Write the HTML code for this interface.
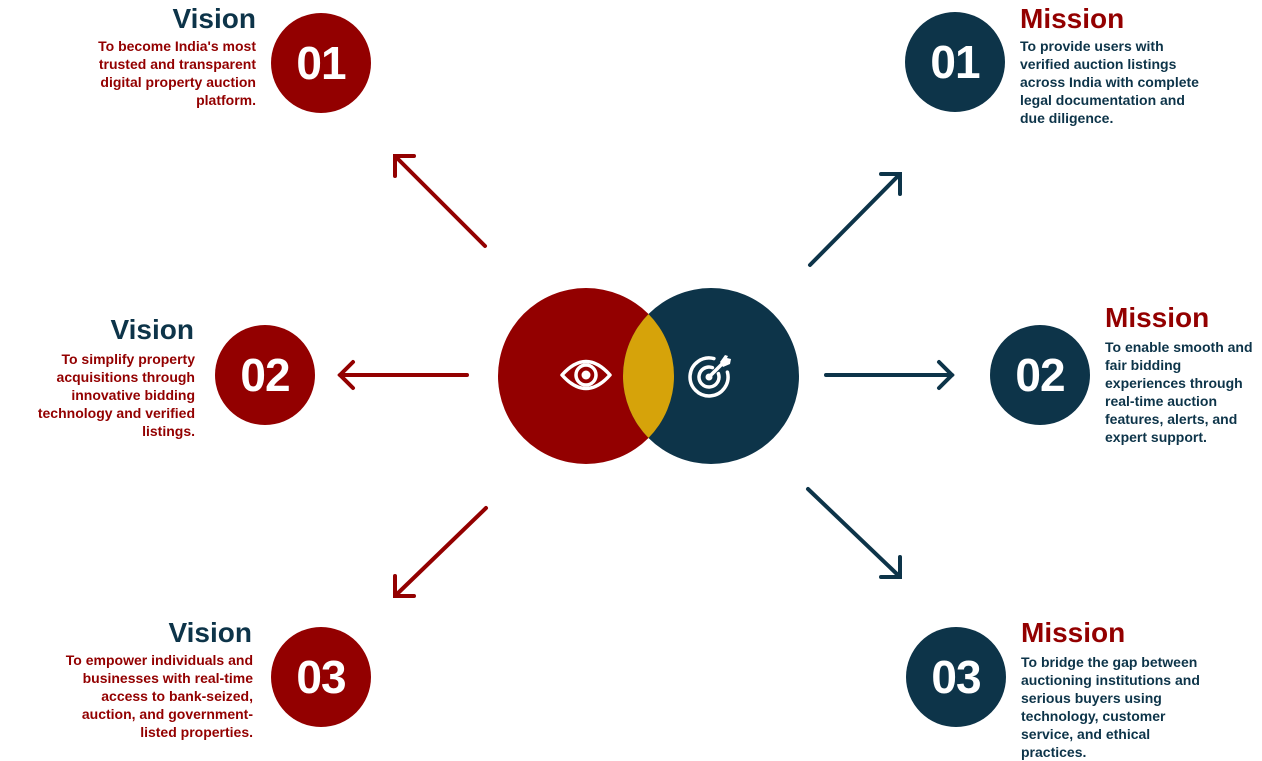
<!DOCTYPE html>
<html>
<head>
<meta charset="utf-8">
<style>
  html,body{margin:0;padding:0;background:#fff;}
  body{width:1262px;height:760px;position:relative;overflow:hidden;font-family:"Liberation Sans",Arial,sans-serif;}
  svg{position:absolute;left:0;top:0;}
  .t{position:absolute;font-weight:bold;font-size:28px;line-height:32px;white-space:nowrap;}
  .b{position:absolute;font-weight:bold;font-size:14px;line-height:18px;white-space:nowrap;}
  .r{text-align:right;}
  .navy{color:#0d3449;}
  .red{color:#930000;}
  .num{position:absolute;width:100px;height:100px;line-height:100px;text-align:center;color:#fff;font-size:46px;font-weight:bold;letter-spacing:-1px;}
</style>
</head>
<body>
<svg width="1262" height="760" viewBox="0 0 1262 760">
  <defs>
    <clipPath id="rc"><circle cx="711" cy="376" r="88"/></clipPath>
  </defs>
  <circle cx="321" cy="63" r="50" fill="#930000"/>
  <circle cx="265" cy="375" r="50" fill="#930000"/>
  <circle cx="321" cy="677" r="50" fill="#930000"/>
  <circle cx="955" cy="62" r="50" fill="#0d3449"/>
  <circle cx="1040" cy="375" r="50" fill="#0d3449"/>
  <circle cx="956" cy="677" r="50" fill="#0d3449"/>

  <circle cx="586" cy="376" r="88" fill="#930000"/>
  <circle cx="711" cy="376" r="88" fill="#0d3449"/>
  <circle cx="586" cy="376" r="88" fill="#d6a30a" clip-path="url(#rc)"/>

  <path d="M562,375 Q586,348 610,375 Q586,402 562,375 Z" fill="none" stroke="#fff" stroke-width="3.5" stroke-linejoin="round"/>
  <circle cx="586" cy="375" r="10" fill="none" stroke="#fff" stroke-width="3.5"/>
  <circle cx="586" cy="375" r="4.5" fill="#fff"/>

  <path d="M713.9,358.6 A19,19 0 1 0 727.4,372.1" fill="none" stroke="#fff" stroke-width="3.5" stroke-linecap="round"/>
  <path d="M712.4,367.6 A10,10 0 1 0 718.4,373.6" fill="none" stroke="#fff" stroke-width="3.5" stroke-linecap="round"/>
  <circle cx="709" cy="377" r="3.5" fill="#fff"/>
  <line x1="709" y1="377" x2="723" y2="363" stroke="#fff" stroke-width="3.5" stroke-linecap="round"/>
  <path d="M720,362 L725,355 L728,356 L727,358 L731,359 L730,364 L723,367 Z" fill="#fff"/>

  <g stroke="#930000" stroke-width="4" fill="none" stroke-linecap="round" stroke-linejoin="miter">
    <line x1="485" y1="246" x2="396" y2="157"/>
    <polyline points="414,156 395,156 395,176"/>
    <line x1="467" y1="375" x2="340" y2="375"/>
    <polyline points="353,362 340,375 353,388"/>
    <line x1="486" y1="508" x2="396" y2="595"/>
    <polyline points="395,576 395,596 414,596"/>
  </g>
  <g stroke="#0d3449" stroke-width="4" fill="none" stroke-linecap="round" stroke-linejoin="miter">
    <line x1="810" y1="265" x2="899" y2="175"/>
    <polyline points="881,174 900,174 900,194"/>
    <line x1="826" y1="375" x2="952" y2="375"/>
    <polyline points="939,362 952,375 939,388"/>
    <line x1="808" y1="489" x2="899" y2="576"/>
    <polyline points="900,557 900,577 881,577"/>
  </g>
</svg>

<div class="num" style="left:271px;top:13px;">01</div>
<div class="num" style="left:215px;top:325px;">02</div>
<div class="num" style="left:271px;top:627px;">03</div>
<div class="num" style="left:905px;top:12px;">01</div>
<div class="num" style="left:990px;top:325px;">02</div>
<div class="num" style="left:906px;top:627px;">03</div>

<div class="t r navy" style="right:1006px;top:3px;">Vision</div>
<div class="b r red" style="right:1006px;top:37px;">To become India's most<br>trusted and transparent<br>digital property auction<br>platform.</div>

<div class="t r navy" style="right:1068px;top:314px;">Vision</div>
<div class="b r red" style="right:1067px;top:350px;">To simplify property<br>acquisitions through<br>innovative bidding<br>technology and verified<br>listings.</div>

<div class="t r navy" style="right:1010px;top:617px;">Vision</div>
<div class="b r red" style="right:1009px;top:651px;">To empower individuals and<br>businesses with real-time<br>access to bank-seized,<br>auction, and government-<br>listed properties.</div>

<div class="t red" style="left:1020px;top:3px;">Mission</div>
<div class="b navy" style="left:1020px;top:37px;">To provide users with<br>verified auction listings<br>across India with complete<br>legal documentation and<br>due diligence.</div>

<div class="t red" style="left:1105px;top:302px;">Mission</div>
<div class="b navy" style="left:1105px;top:338px;">To enable smooth and<br>fair bidding<br>experiences through<br>real-time auction<br>features, alerts, and<br>expert support.</div>

<div class="t red" style="left:1021px;top:617px;">Mission</div>
<div class="b navy" style="left:1021px;top:653px;">To bridge the gap between<br>auctioning institutions and<br>serious buyers using<br>technology, customer<br>service, and ethical<br>practices.</div>
</body>
</html>
